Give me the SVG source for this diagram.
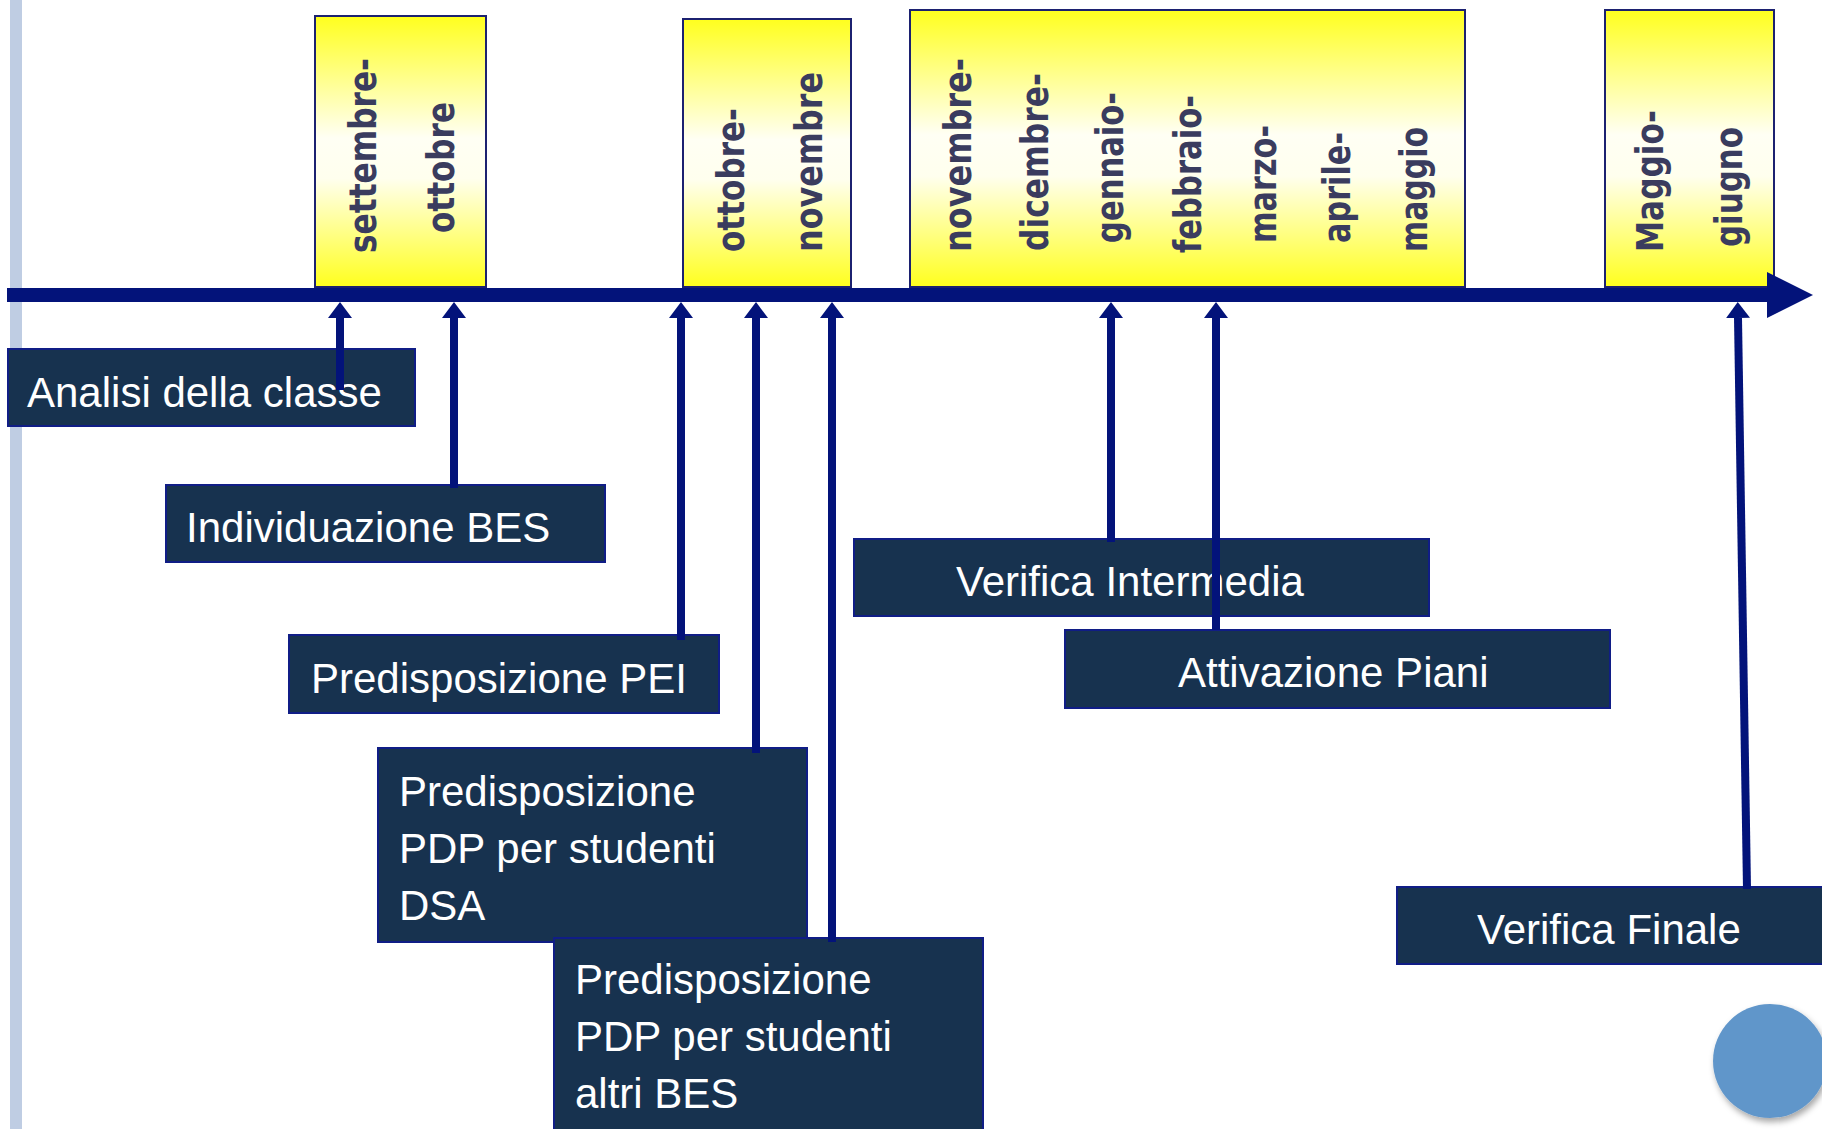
<svg xmlns="http://www.w3.org/2000/svg" width="1822" height="1129" viewBox="0 0 1822 1129">
  <defs>
    <linearGradient id="period-fill" x1="0" y1="0" x2="0" y2="1">
      <stop offset="0" stop-color="#FFFF1E"/>
      <stop offset="0.45" stop-color="#FFFFF4"/>
      <stop offset="0.6" stop-color="#FFFFEE"/>
      <stop offset="1" stop-color="#FFFF1E"/>
    </linearGradient>
    <marker id="head" viewBox="0 0 16 24" markerWidth="16" markerHeight="24" refX="0" refY="12" orient="auto" markerUnits="userSpaceOnUse">
      <path d="M0,0 L16,12 L0,24 Z" fill="#03137A"/>
    </marker>
    <filter id="soft-shadow" x="-30%" y="-30%" width="160%" height="160%">
      <feDropShadow dx="2" dy="4" stdDeviation="3" flood-color="#000" flood-opacity="0.35"/>
    </filter>
  </defs>
  <style>
    .period { fill: url(#period-fill); stroke: #1C2170; stroke-width: 2; }
    .mon { font-family: "DejaVu Sans", "Liberation Sans", sans-serif; font-weight: bold; font-size: 37px; fill: #3A3C5E; }
    .step { fill: #17324F; stroke: #101D86; stroke-width: 2; }
    .lbl { font-family: "Liberation Sans", Arial, sans-serif; font-size: 42px; fill: #FFFFFF; }
    .link { stroke: #03137A; stroke-width: 8; fill: none; marker-end: url(#head); }
  </style>

  <rect width="1822" height="1129" fill="#FFFFFF"/>
  <!-- slide edge bar -->
  <rect x="10" y="0" width="12" height="1129" fill="#BFCDE3"/>

  <!-- period boxes -->
  <g id="period-set-ott">
    <rect class="period" x="315" y="16" width="171" height="271"/>
    <text class="mon" x="376" y="253" transform="rotate(-90 376 253)" textLength="195" lengthAdjust="spacingAndGlyphs">settembre-</text>
    <text class="mon" x="454" y="233" transform="rotate(-90 454 233)" textLength="131" lengthAdjust="spacingAndGlyphs">ottobre</text>
  </g>
  <g id="period-ott-nov">
    <rect class="period" x="683" y="19" width="168" height="268"/>
    <text class="mon" x="744" y="252" transform="rotate(-90 744 252)" textLength="144" lengthAdjust="spacingAndGlyphs">ottobre-</text>
    <text class="mon" x="822" y="252" transform="rotate(-90 822 252)" textLength="180" lengthAdjust="spacingAndGlyphs">novembre</text>
  </g>
  <g id="period-nov-mag">
    <rect class="period" x="910" y="10" width="555" height="277"/>
    <text class="mon" x="971" y="252" transform="rotate(-90 971 252)" textLength="194" lengthAdjust="spacingAndGlyphs">novembre-</text>
    <text class="mon" x="1048" y="251" transform="rotate(-90 1048 251)" textLength="178" lengthAdjust="spacingAndGlyphs">dicembre-</text>
    <text class="mon" x="1123" y="243" transform="rotate(-90 1123 243)" textLength="151" lengthAdjust="spacingAndGlyphs">gennaio-</text>
    <text class="mon" x="1201" y="253" transform="rotate(-90 1201 253)" textLength="158" lengthAdjust="spacingAndGlyphs">febbraio-</text>
    <text class="mon" x="1276" y="243" transform="rotate(-90 1276 243)" textLength="118" lengthAdjust="spacingAndGlyphs">marzo-</text>
    <text class="mon" x="1350" y="243" transform="rotate(-90 1350 243)" textLength="111" lengthAdjust="spacingAndGlyphs">aprile-</text>
    <text class="mon" x="1427" y="252" transform="rotate(-90 1427 252)" textLength="125" lengthAdjust="spacingAndGlyphs">maggio</text>
  </g>
  <g id="period-mag-giu">
    <rect class="period" x="1605" y="10" width="169" height="277"/>
    <text class="mon" x="1663" y="252" transform="rotate(-90 1663 252)" textLength="142" lengthAdjust="spacingAndGlyphs">Maggio-</text>
    <text class="mon" x="1742" y="247" transform="rotate(-90 1742 247)" textLength="120" lengthAdjust="spacingAndGlyphs">giugno</text>
  </g>

  <!-- timeline axis -->
  <g id="timeline">
    <rect x="7" y="288" width="1761" height="14" fill="#03137A"/>
    <polygon points="1767,272 1813,295 1767,318" fill="#03137A"/>
  </g>

  <!-- activity steps -->
  <g id="step-analisi">
    <rect class="step" x="8" y="349" width="407" height="77"/>
    <text class="lbl" x="27" y="407">Analisi della classe</text>
  </g>
  <g id="step-individuazione">
    <rect class="step" x="166" y="485" width="439" height="77"/>
    <text class="lbl" x="186" y="542">Individuazione BES</text>
  </g>
  <g id="step-pei">
    <rect class="step" x="289" y="635" width="430" height="78"/>
    <text class="lbl" x="311" y="693">Predisposizione PEI</text>
  </g>
  <g id="step-pdp-dsa">
    <rect class="step" x="378" y="748" width="429" height="194"/>
    <text class="lbl" x="399" y="806">Predisposizione</text>
    <text class="lbl" x="399" y="863">PDP per studenti</text>
    <text class="lbl" x="399" y="920">DSA</text>
  </g>
  <g id="step-pdp-bes">
    <rect class="step" x="554" y="938" width="429" height="200"/>
    <text class="lbl" x="575" y="994">Predisposizione</text>
    <text class="lbl" x="575" y="1051">PDP per studenti</text>
    <text class="lbl" x="575" y="1108">altri BES</text>
  </g>
  <g id="step-verifica-intermedia">
    <rect class="step" x="854" y="539" width="575" height="77"/>
    <text class="lbl" x="956" y="596">Verifica Intermedia</text>
  </g>
  <g id="step-attivazione">
    <rect class="step" x="1065" y="630" width="545" height="78"/>
    <text class="lbl" x="1178" y="687">Attivazione Piani</text>
  </g>
  <g id="step-verifica-finale">
    <rect class="step" x="1397" y="887" width="440" height="77"/>
    <text class="lbl" x="1477" y="944">Verifica Finale</text>
  </g>

  <!-- connectors: each step points up to its moment on the timeline -->
  <g id="connectors">
    <line class="link" x1="340" y1="390" x2="340" y2="318"/>
    <line class="link" x1="454" y1="488" x2="454" y2="318"/>
    <line class="link" x1="681" y1="640" x2="681" y2="318"/>
    <line class="link" x1="756" y1="753" x2="756" y2="318"/>
    <line class="link" x1="832" y1="942" x2="832" y2="318"/>
    <line class="link" x1="1111" y1="542" x2="1111" y2="318"/>
    <line class="link" x1="1216" y1="630" x2="1216" y2="318"/>
    <line class="link" x1="1747" y1="889" x2="1738" y2="318"/>
  </g>

  <!-- corner disc -->
  <circle cx="1770" cy="1061" r="57" fill="#6196CA" filter="url(#soft-shadow)"/>
</svg>
